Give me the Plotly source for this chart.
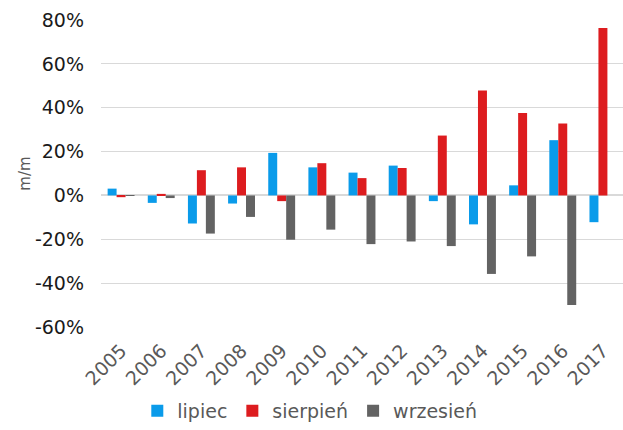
import plotly.graph_objects as go

# Month-on-month change, by year, for July, August and September
years = ["2005", "2006", "2007", "2008", "2009", "2010", "2011",
         "2012", "2013", "2014", "2015", "2016", "2017"]
lipiec = [3.1, -3.4, -12.8, -3.7, 19.4, 12.8, 10.4, 13.6, -2.6, -13.2, 4.6, 25.2, -12.2]
sierpien = [-0.8, 0.7, 11.5, 12.8, -2.6, 14.7, 7.9, 12.5, 27.3, 47.9, 37.6, 32.8, 76.4]
wrzesien = [-0.2, -1.2, -17.4, -9.8, -20.2, -15.6, -22.2, -21.0, -23.1, -35.8, -27.8, -50.0, 0.0]

# Value-axis ticks (percent) and their labels
y_ticks = [-60, -40, -20, 0, 20, 40, 60, 80]
y_tick_labels = ["-60%", "-40%", "-20%", "0%", "20%", "40%", "60%", "80%"]

series = [
    ("lipiec", lipiec, "#0A9BEA"),
    ("sierpień", sierpien, "#DD1C1F"),
    ("wrzesień", wrzesien, "#636363"),
]

font_family = "DejaVu Sans, Verdana, sans-serif"
text_gray = "#595959"

fig = go.Figure()
for name, vals, color in series:
    fig.add_trace(go.Bar(
        x=years,
        y=vals,
        name=name,
        marker=dict(color=color, line=dict(width=0)),
    ))

fig.update_layout(
    width=623,
    height=430,
    margin=dict(l=101, r=0, t=20, b=103, autoexpand=False),
    paper_bgcolor="white",
    plot_bgcolor="white",
    barmode="group",
    bargap=0.33,
    bargroupgap=0,
    font=dict(family=font_family, size=19, color=text_gray),
    showlegend=True,
    legend=dict(
        orientation="h",
        x=0.4,
        xanchor="center",
        yref="container",
        y=-0.012,
        yanchor="bottom",
        borderwidth=0,
        font=dict(size=19, color=text_gray),
        itemwidth=30,
        traceorder="normal",
    ),
    xaxis=dict(
        type="category",
        tickangle=-45,
        showgrid=False,
        showline=False,
        ticks="",
        automargin=False,
        ticklabelstandoff=8,
        tickfont=dict(size=19, color=text_gray),
    ),
    yaxis=dict(
        range=[-60, 80],
        tickvals=y_ticks,
        ticktext=y_tick_labels,
        showgrid=True,
        gridcolor="#D9D9D9",
        gridwidth=1,
        zeroline=True,
        zerolinecolor="#D9D9D9",
        zerolinewidth=2,
        showline=False,
        ticks="",
        automargin=False,
        ticklabelstandoff=16,
        tickfont=dict(size=19, color="#1a1a1a"),
        title=dict(text="m/m", font=dict(size=15, color=text_gray), standoff=0),
    ),
)

fig.write_html("out.html")
